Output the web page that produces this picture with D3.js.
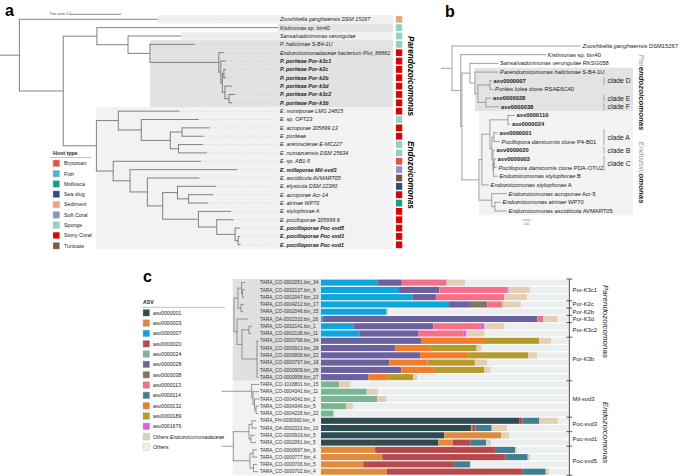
<!DOCTYPE html>
<html><head><meta charset="utf-8">
<script src="https://cdn.jsdelivr.net/npm/d3@7/dist/d3.min.js"></script>
<style>
html,body{margin:0;padding:0;background:#fff;}
svg{display:block;font-family:"Liberation Sans",Arial,Helvetica,sans-serif;}
</style></head><body>
<svg id="fig" width="683" height="476"></svg>
<script>
// ================= DATA =================
// ---- Panel a ----
const leavesA = ["Zooshikella ganghwensis DSM 15267","Kistimonas sp. bin40","Sansalvadorimonas verongulae",
 "P. haliclonae S-B4-1U","Endozoicomonadaceae bacterium Plut_88861","P. poriteae Por-k3c1","P. poriteae Por-k2c",
 "P. poriteae Por-k2b","P. poriteae Por-k3d","P. poriteae Por-k3c2","P. poriteae Por-k3b","E. montiporae LMG 24815",
 "E. sp. OPT23","E. acroporae 305899.13","E. poriteae","E. arenosclerae E-MC227","E. numazuensis DSM 25634",
 "E. sp. AB1-5","E. milleporae Mil-svd3","E. ascidiicola AVMART05","E. elysicola DSM 22380","E. acroporae Acr-14",
 "E. atrinae WP70","E. stylophorae A","E. pocilloporae 305899.6","E. pocilloporae Poc-svd5","E. pocilloporae Poc-svd3",
 "E. pocilloporae Poc-svd1"];
const boldA = ["P. poriteae Por-k3c1","P. poriteae Por-k2c","P. poriteae Por-k2b","P. poriteae Por-k3d",
 "P. poriteae Por-k3c2","P. poriteae Por-k3b","E. milleporae Mil-svd3","E. pocilloporae Poc-svd5",
 "E. pocilloporae Poc-svd3","E. pocilloporae Poc-svd1"];
const hostA = ["Sediment","Sponge","Sponge","Sponge","Stony Coral","Stony Coral","Stony Coral","Stony Coral",
 "Stony Coral","Stony Coral","Stony Coral","Stony Coral","Sponge","Stony Coral","Stony Coral","Sponge","Sponge",
 "Bryozoan","Soft Coral","Tunicate","Sea slug","Stony Coral","Mollusca","Stony Coral","Stony Coral","Stony Coral",
 "Stony Coral","Stony Coral"];
const hostTypes = ["Bryozoan","Fish","Mollusca","Sea slug","Sediment","Soft Coral","Sponge","Stony Coral","Tunicate"];
const hostColors = ["#e8533f","#45b6dc","#14a086","#2d4b8c","#f5a081","#8a94c6","#8fd4c1","#e50000","#7b5b41"];
// tree a: [node, parent, branch length (subst./site)]
const treeA = [
 ["rA","",0],["a0","rA",0.038],[leavesA[0],"a0",0.272],["a1","a0",0.086],["a2","a1",0.066],
 [leavesA[1],"a2",0.355],["a3","a2",0.061],[leavesA[2],"a3",0.104],["a4","a3",0.043],
 [leavesA[3],"a4",0.088],["a5","a4",0.135],[leavesA[4],"a5",0.010],["a6","a5",0.004],
 [leavesA[5],"a6",0.010],["a7","a6",0.003],["a8","a7",0.003],[leavesA[6],"a8",0.004],[leavesA[7],"a8",0.004],
 ["a9","a7",0.005],[leavesA[8],"a9",0.014],["a10","a9",0.008],[leavesA[9],"a10",0.012],[leavesA[10],"a10",0.006],
 ["a11","a1",0.065],["a12","a11",0.043],[leavesA[11],"a12",0.120],["a13","a12",0.045],[leavesA[12],"a13",0.113],
 ["a14","a13",0.057],["a15","a14",0.023],[leavesA[13],"a15",0.054],[leavesA[14],"a15",0.042],
 ["a16","a14",0.016],[leavesA[15],"a16",0.048],[leavesA[16],"a16",0.056],
 ["a17","a11",0.033],[leavesA[17],"a17",0.172],["a18","a17",0.033],[leavesA[18],"a18",0.210],
 ["a19","a18",0.034],[leavesA[19],"a19",0.102],["a20","a19",0.030],["a21","a20",0.029],[leavesA[20],"a21",0.076],
 ["a22","a21",0.022],[leavesA[21],"a22",0.048],[leavesA[22],"a22",0.038],["a23","a20",0.070],
 [leavesA[23],"a23",0.064],["a24","a23",0.036],[leavesA[24],"a24",0.033],["a25","a24",0.036],
 [leavesA[25],"a25",0.010],["a26","a25",0.006],[leavesA[26],"a26",0.004],[leavesA[27],"a26",0.005]
];

// ---- Panel b ----
const leavesB = ["Zooshikella ganghwensis DSM15267","Kistimonas sp. bin40","Sansalvadorimonas verongulae RKSG058",
 "Parendozoicomonas haliclonae S-B4-1U","asv0000007","Porites lutea clone RSAE6C40","asv0000028","asv0000038",
 "asv0000110","asv0000024","asv0000001","Pocillopora damicornis clone P4-B01","asv0000020","asv0000003",
 "Pocillopora damicornis clone PDA-OTU2","Endozoicomonas stylophorae B","Endozoicomonas stylophorae A",
 "Endozoicomonas acroporae Acr-5","Endozoicomonas atrinae WP70","Endozoicomonas ascidiicola AVMART05"];
const italicWordsB = [2,1,2,2,0,2,0,0,0,0,0,2,0,0,2,2,2,2,2,2];
const treeB = [
 ["rB","",0],["b0","rB",0.0275],[leavesB[0],"b0",0.3225],["b1","b0",0.0218],[leavesB[1],"b1",0.213],
 ["b2","b1",0.003],["b3","b2",0.02],[leavesB[2],"b3",0.071],["b5","b3",0.0125],[leavesB[3],"b5",0.059],
 ["b6","b5",0.0075],["b17","b6",0.03],[leavesB[4],"b17",0.005],[leavesB[5],"b17",0.009],
 ["b18","b6",0.02],[leavesB[6],"b18",0.014],[leavesB[7],"b18",0.034],
 ["b4","b2",0.0425],["b7","b4",0.0075],["b9","b7",0.02],["b10","b9",0.045],[leavesB[8],"b10",0.0175],
 [leavesB[9],"b10",0.006],["b11","b9",0.005],["b12","b11",0.005],[leavesB[10],"b12",0.01],[leavesB[11],"b12",0.015],
 ["b13","b11",0.0025],[leavesB[12],"b13",0.005],["b14","b13",0.00125],["b15","b14",0.0025],
 [leavesB[13],"b15",0.004],[leavesB[14],"b15",0.006],[leavesB[15],"b14",0.011],[leavesB[16],"b7",0.0175],
 ["b8","b4",0.032],[leavesB[17],"b8",0.038],["b16","b8",0.008],[leavesB[18],"b16",0.015],[leavesB[19],"b16",0.03]
];
const cladesB = [["clade D",4,4],["clade E",6,6],["clade F",7,7],["clade A",10,11],["clade B",12,12],["clade C",13,14]];

// ---- Panel c ----
const leavesC = ["TARA_CO-0002051.bin_34","TARA_CO-0002137.bin_6","TARA_CO-0002047.bin_23","TARA_CO-0004212.bin_17",
 "TARA_CO-0002046.bin_15","TARA_OA-0002333.bin_26","TARA_CO-0002141.bin_1","TARA_CO-0002136.bin_11",
 "TARA_CO-0000798.bin_34","TARA_CO-0000913.bin_28","TARA_CO-0000808.bin_22","TARA_CO-0000797.bin_18",
 "TARA_CO-0000909.bin_28","TARA_CO-0000958.bin_27","TARA_CO-1016801.bin_15","TARA_CO-0004341.bin_11",
 "TARA_CO-0004342.bin_2","TARA_CO-0004346.bin_5","TARA_CO-0004226.bin_22","TARA_FH-0000960.bin_4",
 "TARA_OA-0002323.bin_10","TARA_CO-0000919.bin_5","TARA_CO-0002061.bin_5","TARA_CO-0000697.bin_6",
 "TARA_CO-0000777.bin_4","TARA_CO-0000706.bin_5","TARA_CO-0000702.bin_4"];
const groupNames = ["Por-K3c1","Por-K2c","Por-K2b","Por-K3d","Por-K3c2","Por-K3b","Mil-svd3","Poc-svd3","Poc-svd1","Poc-svd5"];
const groupSizes = [3,1,1,1,2,6,5,2,2,4];
const asvKeys = ["asv0000001","asv0000003","asv0000007","asv0000020","asv0000024","asv0000028","asv0000038",
 "asv0000113","asv0000114","asv0000132","asv0000189","asv0001676","Others Endozoicomonadaceae","Others"];
const asvColors = ["#2e4a52","#e08b3c","#0ea5dc","#b5484a","#7ab696","#6b619e","#807565","#f76e8a","#3f7f91",
 "#f27c2a","#b59b2b","#dc5fea","#e3cfb5","#eceff0"];
// relative abundance (%) per genome, rows in leavesC order
const asv0000001 = [0,0,0,0,0,0,0,0,0,0,0,0,0,0,0,0,0,0,0,80.2,60.7,49.9,47.5,0,0,0,0];
const asv0000003 = [0,0,0,0,0,0,0,0,0,0,0,0,0,0,0,0,0,0,0,0,0.5,23.0,5.8,21.9,24.8,17.1,26.6];
const asv0000007 = [23.0,31.6,37.0,51.8,26.6,0.6,13.1,15.5,0,0,0,0,0,0,0,0,0,0,0,0,0,0,0,0,0,0,0];
const asv0000020 = [0,0,0,0,0,0,0,0,0,0,0,0,0,0,0,0,0,0,0,1.3,1.4,0,7.3,48.9,50.0,36.7,55.1];
const asv0000024 = [0,0,0,0,0,0,0,0,0,0,0,0,0,0,7.3,18.5,22.8,10.1,5.0,0,0,0,0,0,0,0,0];
const asv0000028 = [9.7,16.3,9.5,8.5,0,87.0,32.4,24.0,40.5,30.2,40.1,27.6,32.5,19.1,0,0,0,0,0,0,0,0,0,0,0,0,0];
const asv0000038 = [0,0,0,7.0,0,0,0,0,0,0,0,0,0,0,0,0,0,0,0,0,0,0,0,0,0,0,0];
const asv0000113 = [18.2,27.3,27.6,5.8,0,2.4,19.2,18.3,0,0,0,0,0,0,0,0,0,0,0,0,0,0,0,0,0,0,0];
const asv0000114 = [0,0,0,0,0,0,0,0,0,0,0,0,0,0,0,0,0,0,0,6.9,6.5,0,6.2,7.8,8.9,6.5,9.3];
const asv0000132 = [0,0,0,0,0,0,0,0,25.9,14.3,19.5,15.5,13.6,7.7,0,0,0,0,0,0,0,0,0,0,0,0,0];
const asv0000189 = [0,0,0,0.5,0,0,0,0,22.0,18.5,24.3,19.2,20.0,10.5,0,0,0,0,0,0,0,0,0,0,0,0,0];
const asv0001676 = [0,0.5,0,0,0,0,1.3,1.1,0,0,0,0,0,0,0,0,0,0,0,0,0,0,0,0,0,0,0];
const othersEndo = [7.4,8.9,9.4,7.3,0.7,5.8,8.1,7.4,4.7,2.0,3.6,5.1,2.6,1.6,4.7,4.5,3.8,3.0,0.6,7.5,6.3,3.4,2.0,0.7,0.9,0.4,1.3];
const others = [41.7,15.4,16.5,19.1,72.7,4.2,25.9,33.7,6.9,35.0,12.5,32.6,31.3,61.1,88.0,77.0,73.4,86.9,94.4,4.1,24.6,23.7,31.2,20.7,15.4,39.3,7.6];
// tree c (arbitrary distance units)
const treeC = [
 ["rC","",0],["P","rC",0.123],["PA","P",0.04],["PA1","PA",0.035],[leavesC[0],"PA1",0.035],["PA11","PA1",0.01],
 [leavesC[1],"PA11",0.025],[leavesC[2],"PA11",0.015],["PA2","PA",0.03],[leavesC[3],"PA2",0.03],[leavesC[4],"PA2",0.02],
 ["PB","P",0.03],[leavesC[5],"PB",0.11],["PB1","PB",0.05],["PB2","PB1",0.07],[leavesC[6],"PB2",0.03],
 [leavesC[7],"PB2",0.02],["PB3","PB1",0.15],[leavesC[8],"PB3",0.01],[leavesC[9],"PB3",0.005],[leavesC[10],"PB3",0.01],
 [leavesC[11],"PB3",0.005],[leavesC[12],"PB3",0.01],[leavesC[13],"PB3",0.015],
 ["M","rC",0.30],[leavesC[14],"M",0.078],["M1","M",0.013],[leavesC[15],"M1",0.06],["M2","M1",0.015],
 [leavesC[16],"M2",0.055],["M3","M2",0.015],[leavesC[17],"M3",0.03],[leavesC[18],"M3",0.025],
 ["Q","rC",0.116],["Q1","Q",0.157],["Q11","Q1",0.03],[leavesC[19],"Q11",0.04],[leavesC[20],"Q11",0.045],
 ["Q12","Q1",0.02],[leavesC[21],"Q12",0.04],[leavesC[22],"Q12",0.05],["Q2","Q",0.167],["Q21","Q2",0.03],
 [leavesC[23],"Q21",0.04],[leavesC[24],"Q21",0.045],["Q22","Q2",0.035],[leavesC[25],"Q22",0.035],[leavesC[26],"Q22",0.045]
];

// ================= DRAWING =================
const svg = d3.select("#fig");

function layoutTree(edges, xScale, leafY){
  const root = d3.stratify().id(d=>d[0]).parentId(d=>d[1])(edges);
  root.eachBefore(n=>{ n.dist = n.parent ? n.parent.dist + (+n.data[2]) : 0; n.px = xScale(n.dist); });
  root.leaves().forEach((l,i)=>{ l.py = leafY(l.id,i); });
  root.eachAfter(n=>{ if(n.children){ n.py=(n.children[0].py+n.children[n.children.length-1].py)/2; }});
  return root;
}
function drawTree(g, root, color, sw, opts){
  opts = opts||{};
  const noStem = opts.noStem||[];
  const hs = root.descendants().filter(n=>n.parent && !noStem.includes(n.id));
  g.append("g").selectAll("line").data(hs).join("line")
   .attr("x1",n=>n.parent.px).attr("x2",n=>n.px).attr("y1",n=>n.py).attr("y2",n=>n.py)
   .attr("stroke",color).attr("stroke-width",sw);
  const vs = root.descendants().filter(n=>n.children && n.children.length>1 && !(opts.skipRootV && n===root));
  g.append("g").selectAll("line").data(vs).join("line")
   .attr("x1",n=>n.px).attr("x2",n=>n.px)
   .attr("y1",n=>n.children[0].py-sw/2).attr("y2",n=>n.children[n.children.length-1].py+sw/2)
   .attr("stroke",color).attr("stroke-width",sw);
}

// ---------- Panel a ----------
const gA = svg.append("g");
const xA = d3.scaleLinear().domain([0,0.1]).range([0,51]);
const yA = d3.scaleLinear().domain([0,leavesA.length-1]).range([19.3,244.8]);
const stepA = yA(1)-yA(0);
const rootA = layoutTree(treeA, xA, (id)=>yA(leavesA.indexOf(id)));
const nodeA = id => rootA.find(n=>n.id===id);
const bgA = [[leavesA[0],0,0,"#f0f0f0"],[leavesA[1],1,1,"#e4e4e4"],[leavesA[2],2,2,"#f0f0f0"],
             ["a4",3,10,"#e2e2e2"],["a11",11,27,"#f2f2f2"]];
gA.append("g").selectAll("rect").data(bgA).join("rect")
  .attr("x",d=>nodeA(d[0]).px).attr("y",d=>yA(d[1])-stepA/2)
  .attr("width",d=>393-nodeA(d[0]).px).attr("height",d=>yA(d[2])-yA(d[1])+stepA)
  .attr("fill",d=>d[3]);
// leader dotted lines
gA.append("g").selectAll("line").data(rootA.leaves()).join("line")
  .attr("x1",d=>d.px+1).attr("x2",277).attr("y1",d=>d.py).attr("y2",d=>d.py)
  .attr("stroke","#c4c4c4").attr("stroke-width",0.5).attr("stroke-dasharray","1,1.2");
drawTree(gA, rootA, "#747474", 0.9);
gA.append("g").selectAll("text").data(rootA.leaves()).join("text")
  .attr("x",280).attr("y",d=>d.py+1.9).attr("font-size",5.4).attr("font-style","italic")
  .attr("font-weight",d=>boldA.includes(d.id)?"bold":"normal").attr("fill","#222").text(d=>d.id);
const hostScale = d3.scaleOrdinal().domain(hostTypes).range(hostColors);
gA.append("g").selectAll("rect").data(leavesA).join("rect")
  .attr("x",396).attr("y",(d,i)=>yA(i)-3.4).attr("width",6.2).attr("height",6.8)
  .attr("fill",(d,i)=>hostScale(hostA[i]));
// tree scale
gA.append("text").attr("x",49.5).attr("y",15.4).attr("font-size",3.3).attr("fill","#444").text("Tree scale: 0.1");
gA.append("line").attr("x1",70).attr("x2",70+xA(0.1)).attr("y1",14.3).attr("y2",14.3).attr("stroke","#555").attr("stroke-width",0.7);
// titles
gA.append("text").attr("transform","translate(407.5,76) rotate(90)").attr("text-anchor","middle")
  .attr("font-size",8.2).attr("font-weight","bold").attr("font-style","italic").text("Parendozoicomonas");
gA.append("text").attr("transform","translate(407.5,175) rotate(90)").attr("text-anchor","middle")
  .attr("font-size",8.2).attr("font-weight","bold").attr("font-style","italic").text("Endozoicomonas");
// legend
const legA = gA.append("g");
legA.append("text").attr("x",53).attr("y",154.8).attr("font-size",5.4).attr("font-weight","bold").attr("fill","#222").text("Host type");
legA.append("line").attr("x1",50.5).attr("x2",91).attr("y1",157.5).attr("y2",157.5).attr("stroke","#999").attr("stroke-width",0.6);
legA.selectAll("rect").data(hostTypes).join("rect").attr("x",53).attr("y",(d,i)=>163.3+i*10.3-3.3)
  .attr("width",6.7).attr("height",6.7).attr("fill",d=>hostScale(d)).attr("stroke","#ccc").attr("stroke-width",0.4);
legA.selectAll("text.l").data(hostTypes).join("text").attr("class","l").attr("x",64).attr("y",(d,i)=>163.3+i*10.3+1.9)
  .attr("font-size",5.3).attr("fill","#222").text(d=>d);

// ---------- Panel b ----------
const gB = svg.append("g");
const xB = d3.scaleLinear().domain([0,0.02]).range([441,449]);
const yB = d3.scaleLinear().domain([0,leavesB.length-1]).range([46,211]);
const stepB = yB(1)-yB(0);
const rootB = layoutTree(treeB, xB, (id)=>yB(leavesB.indexOf(id)));
const nodeB = id => rootB.find(n=>n.id===id);
const bgB = [["b5",3,7,"#e3e3e3"],["b4",8,19,"#f3f3f3"]];
gB.append("g").selectAll("rect").data(bgB).join("rect")
  .attr("x",d=>nodeB(d[0]).px).attr("y",d=>yB(d[1])-stepB/2)
  .attr("width",d=>633-nodeB(d[0]).px).attr("height",d=>yB(d[2])-yB(d[1])+stepB).attr("fill",d=>d[3]);
drawTree(gB, rootB, "#8a8a8a", 0.8);
const labB = gB.append("g").selectAll("text").data(rootB.leaves()).join("text")
  .attr("x",d=>d.px+1.6).attr("y",d=>d.py+2).attr("font-size",5.8).attr("fill","#222");
labB.each(function(d){
  const i = leavesB.indexOf(d.id), t = d3.select(this), words = d.id.split(" "), k = italicWordsB[i];
  if(k===0){ t.attr("font-weight","bold").text(d.id); return; }
  t.append("tspan").attr("font-style","italic").text(words.slice(0,k).join(" "));
  if(words.length>k) t.append("tspan").text(" "+words.slice(k).join(" "));
});
const clB = gB.append("g");
cladesB.forEach(c=>{
  const y0=yB(c[1])-stepB/2+0.8, y1=yB(c[2])+stepB/2-0.8;
  clB.append("line").attr("x1",604).attr("x2",604).attr("y1",y0).attr("y2",y1).attr("stroke","#777").attr("stroke-width",0.6);
  clB.append("text").attr("x",607.5).attr("y",(y0+y1)/2+2.4).attr("font-size",6.8).attr("fill","#222").text(c[0]);
});
const tP = gB.append("text").attr("transform","translate(638.5,92.5) rotate(90)").attr("text-anchor","middle")
  .attr("font-size",7.8).attr("font-style","italic");
tP.append("tspan").attr("fill","#999").text("Par");
tP.append("tspan").attr("font-weight","bold").attr("fill","#222").text("endozoicomonas");
const tE = gB.append("text").attr("transform","translate(638.5,172.5) rotate(90)").attr("text-anchor","middle")
  .attr("font-size",7.8).attr("font-style","italic");
tE.append("tspan").attr("fill","#999").text("Endozoic");
tE.append("tspan").attr("font-weight","bold").attr("fill","#222").text("omonas");
gB.append("line").attr("x1",522.7).attr("x2",522.7+(xB(0.02)-xB(0))).attr("y1",220).attr("y2",220).attr("stroke","#666").attr("stroke-width",0.6);
gB.append("text").attr("x",526.7).attr("y",225).attr("text-anchor","middle").attr("font-size",2.8).attr("fill","#666").text("0.02");

// ---------- Panel c ----------
const gC = svg.append("g");
const yC = d3.scaleBand().domain(leavesC).range([279,475.3]).paddingInner(0.16).paddingOuter(0.08);
const stepC = yC.step();
const xC = d3.scaleLinear().domain([0,100]).range([321,568]);
const xT = d3.scaleLinear().domain([0,1]).range([221.7,321.7]);
const rootC = layoutTree(treeC, xT, (id)=>yC(id)+yC.bandwidth()/2);
gC.append("rect").attr("x",232.7).attr("y",279).attr("width",xC(0)-232.7).attr("height",14*stepC).attr("fill","#e0e0e0");
gC.append("rect").attr("x",232.7).attr("y",279+14*stepC).attr("width",xC(0)-232.7).attr("height",13*stepC).attr("fill","#f2f2f2");
drawTree(gC, rootC, "#777", 0.75, {noStem:["P"], skipRootV:true});
gC.append("g").selectAll("text").data(leavesC).join("text")
  .attr("x",260).attr("y",d=>yC(d)+yC.bandwidth()/2+1.7).attr("font-size",4.8).attr("fill","#333").text(d=>d);
// stacked bars
const seriesByKey = {"asv0000001":asv0000001,"asv0000003":asv0000003,"asv0000007":asv0000007,"asv0000020":asv0000020,
 "asv0000024":asv0000024,"asv0000028":asv0000028,"asv0000038":asv0000038,"asv0000113":asv0000113,"asv0000114":asv0000114,
 "asv0000132":asv0000132,"asv0000189":asv0000189,"asv0001676":asv0001676,"Others Endozoicomonadaceae":othersEndo,"Others":others};
const stackOrder = ["asv0000001","asv0000003","asv0000020","asv0000114","asv0000007","asv0000024","asv0000028",
 "asv0000038","asv0000113","asv0001676","asv0000132","asv0000189","Others Endozoicomonadaceae","Others"];
const table = leavesC.map((name,i)=>{ const o={name}; asvKeys.forEach(k=>o[k]=seriesByKey[k][i]); return o; });
const stacked = d3.stack().keys(stackOrder)(table);
const colorC = d3.scaleOrdinal().domain(asvKeys).range(asvColors);
gC.append("g").selectAll("g").data(stacked).join("g").attr("fill",s=>colorC(s.key))
  .selectAll("rect").data(s=>s).join("rect")
  .attr("x",d=>xC(d[0])).attr("width",d=>Math.max(0,xC(Math.min(100,d[1]))-xC(d[0])))
  .attr("y",d=>yC(d.data.name)).attr("height",yC.bandwidth());
// group axis
const axG = gC.append("g");
axG.append("line").attr("x1",569.3).attr("x2",569.3).attr("y1",279).attr("y2",475.3).attr("stroke","#333").attr("stroke-width",0.9);
let acc=0; const bounds=[0];
groupSizes.forEach(s=>{ acc+=s; bounds.push(acc); });
axG.selectAll("line.t").data(bounds).join("line").attr("class","t")
  .attr("x1",566.3).attr("x2",572.3).attr("y1",b=>279+b*stepC).attr("y2",b=>279+b*stepC)
  .attr("stroke","#333").attr("stroke-width",0.8);
axG.selectAll("text").data(groupNames).join("text").attr("x",572.5)
  .attr("y",(d,i)=>279+(bounds[i]+bounds[i+1])/2*stepC+2)
  .attr("font-size",5.9).attr("fill","#222").text(d=>d);
gC.append("text").attr("transform","translate(603,321.5) rotate(90)").attr("text-anchor","middle")
  .attr("font-size",8).attr("font-style","italic").attr("fill","#222").text("Parendozoicomonas");
gC.append("text").attr("transform","translate(603,432.5) rotate(90)").attr("text-anchor","middle")
  .attr("font-size",8).attr("font-style","italic").attr("fill","#222").text("Endozoicomonas");
// legend c
const legC = gC.append("g");
legC.append("text").attr("x",143).attr("y",303.6).attr("font-size",5.2).attr("font-weight","bold").attr("fill","#222").text("ASV");
legC.append("line").attr("x1",142.5).attr("x2",225).attr("y1",307.3).attr("y2",307.3).attr("stroke","#999").attr("stroke-width",0.6);
legC.selectAll("rect").data(asvKeys).join("rect").attr("x",143).attr("y",(d,i)=>312.7+i*10.33-3.3)
  .attr("width",6.7).attr("height",6.7).attr("fill",d=>colorC(d)).attr("stroke","#bbb").attr("stroke-width",0.4);
const legT = legC.selectAll("text.l").data(asvKeys).join("text").attr("class","l").attr("x",153)
  .attr("y",(d,i)=>312.7+i*10.33+1.9).attr("font-size",5.2).attr("fill","#222");
legT.each(function(d){
  const t=d3.select(this);
  if(d==="Others Endozoicomonadaceae"){ t.append("tspan").text("Others "); t.append("tspan").attr("font-style","italic").text("Endozoicomonadaceae"); }
  else t.text(d);
});

// panel letters
[["a",5,15.5],["b",445,17],["c",143,282]].forEach(p=>{
  svg.append("text").attr("x",p[1]).attr("y",p[2]).attr("font-size",16).attr("font-weight","bold").attr("fill","#000").text(p[0]);
});
</script>
</body></html>
